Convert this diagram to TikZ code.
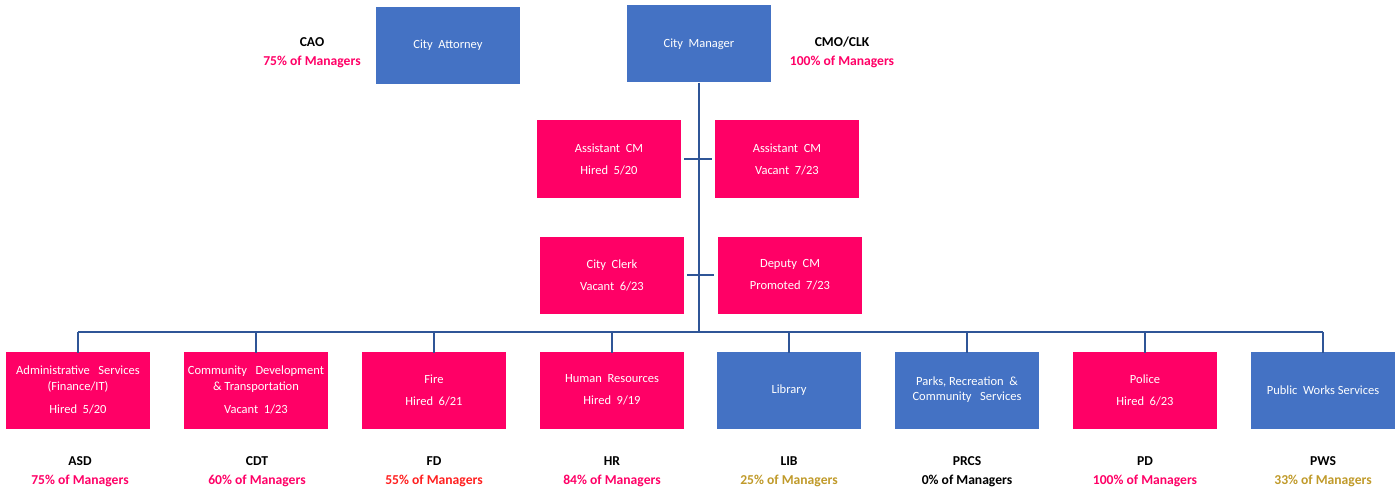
\documentclass[tikz,border=0pt]{standalone}
\usepackage{fontspec}
\setmainfont{Carlito}
\definecolor{unitpink}{HTML}{FF0066}
\definecolor{unitblue}{HTML}{4472C4}
\definecolor{linkblue}{HTML}{2F5597}
\definecolor{pctred}{HTML}{FF1F1F}
\definecolor{pctgold}{HTML}{C09A2A}
\begin{document}
\begin{tikzpicture}[x=1pt,y=-1pt,
  unit/.style={rectangle, minimum width=144pt, minimum height=77pt, inner sep=2pt,
    text=white, align=center, font=\fontsize{12.5}{16}\selectfont},
  pinkunit/.style={unit, fill=unitpink},
  blueunit/.style={unit, fill=unitblue},
  link/.style={draw=linkblue, line width=2.4pt},
  tag/.style={align=center, font=\fontsize{13.6}{19}\selectfont\bfseries, inner sep=0pt}]
\useasboundingbox (0,0) rectangle (1396,489);

% executive level
\node[blueunit] (ca) at (448,45.5) {City\ \ Attorney};
\node[blueunit] (cm) at (699,44) {City\ \ Manager};
\node[tag] (caotag) at (312,52.5) {CAO\\\textcolor{unitpink}{75\% of Managers}};
\node[tag] (cmotag) at (842,52.5) {CMO/CLK\\\textcolor{unitpink}{100\% of Managers}};

% city manager's office
\node[pinkunit] (ac1) at (609,159) {Assistant\ \ CM\\[6pt]Hired\ \ 5/20};
\node[pinkunit] (ac2) at (787,159) {Assistant\ \ CM\\[6pt]Vacant\ \ 7/23};
\node[pinkunit] (clerk) at (612,275) {City\ \ Clerk\\[6pt]Vacant\ \ 6/23};
\node[pinkunit] (dcm) at (790,275) {Deputy\ \ CM\\[6pt]Promoted\ \ 7/23};

% departments
\node[pinkunit] (asd) at (78,390) {Administrative\ \ \ Services\\(Finance/IT)\\[7pt]Hired\ \ 5/20};
\node[pinkunit] (cdt) at (256,390) {Community\ \ \ Development\\\&\ Transportation\\[7pt]Vacant\ \ 1/23};
\node[pinkunit] (fd) at (434,390) {Fire\\[6pt]Hired\ \ 6/21};
\node[pinkunit] (hr) at (612,390) {Human\ \ Resources\\[6pt]Hired\ \ 9/19};
\node[blueunit] (lib) at (789,390) {Library};
\node[blueunit] (prcs) at (967,390) {Parks,\ Recreation\ \ \&\\[-1pt]Community\ \ \ Services};
\node[pinkunit] (pd) at (1145,390) {Police\\[6pt]Hired\ \ 6/23};
\node[blueunit] (pws) at (1323,390) {Public\ \ Works\ Services};

% department tags
\node[tag] (asdtag) at (80,472) {ASD\\\textcolor{unitpink}{75\% of Managers}};
\node[tag] (cdttag) at (257,472) {CDT\\\textcolor{unitpink}{60\% of Managers}};
\node[tag] (fdtag) at (434,472) {FD\\\textcolor{pctred}{55\% of Managers}};
\node[tag] (hrtag) at (612,472) {HR\\\textcolor{unitpink}{84\% of Managers}};
\node[tag] (libtag) at (789,472) {LIB\\\textcolor{pctgold}{25\% of Managers}};
\node[tag] (prcstag) at (967,472) {PRCS\\0\% of Managers};
\node[tag] (pdtag) at (1145,472) {PD\\\textcolor{unitpink}{100\% of Managers}};
\node[tag] (pwstag) at (1323,472) {PWS\\\textcolor{pctgold}{33\% of Managers}};

% trunk and cross ticks
\coordinate (bus) at (699,332);
\coordinate (t1l) at (684,159);
\coordinate (t1r) at (712,159);
\coordinate (t2l) at (687,275);
\coordinate (t2r) at (714,275);
\draw[link] (cm.south) -- (bus);
\draw[link] (t1l) -- (t1r);
\draw[link] (t2l) -- (t2r);

% department bus
\coordinate (busl) at (asd.north |- bus);
\coordinate (busr) at (pws.north |- bus);
\draw[link] (busl) -- (busr);
\foreach \d in {asd,cdt,fd,hr,lib,prcs,pd,pws}
  \draw[link] (\d.north |- bus) -- ([yshift=-1.5pt]\d.north);
\end{tikzpicture}
\end{document}
